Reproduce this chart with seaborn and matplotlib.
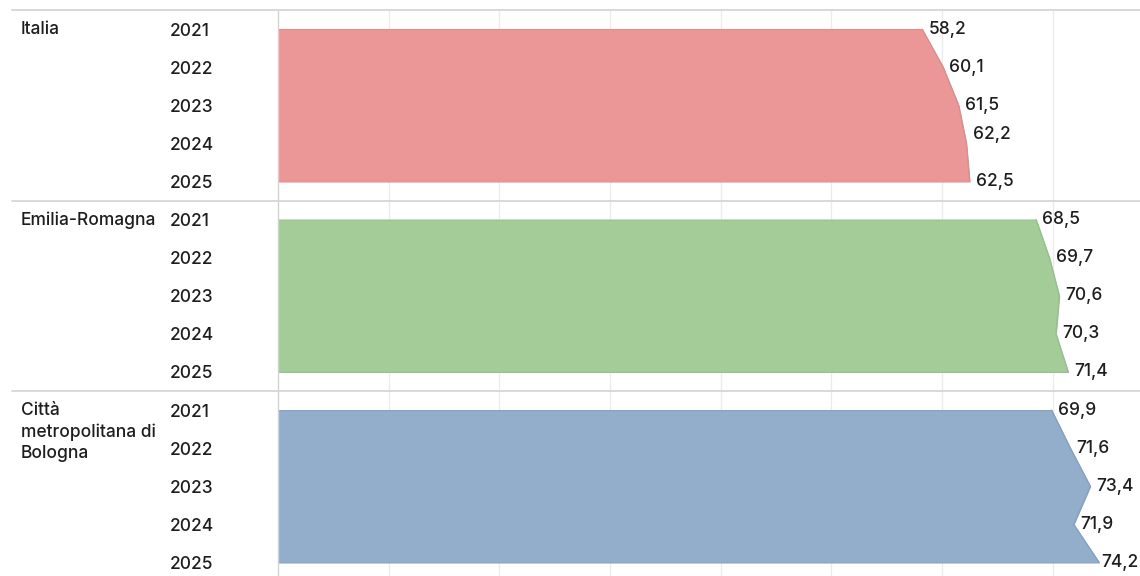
import matplotlib
matplotlib.use("Agg")
import matplotlib.pyplot as plt
import seaborn as sns
import numpy as np
import pandas as pd
from matplotlib.lines import Line2D
import matplotlib.transforms as mtransforms

# ---------------- data ----------------
years = ["2021", "2022", "2023", "2024", "2025"]
regions = ["Italia", "Emilia-Romagna", "Città\nmetropolitana di\nBologna"]
italia = [58.2, 60.1, 61.5, 62.2, 62.5]
emilia = [68.5, 69.7, 70.6, 70.3, 71.4]
bologna = [69.9, 71.6, 73.4, 71.9, 74.2]
series = [italia, emilia, bologna]
grid_ticks = [0, 10, 20, 30, 40, 50, 60, 70]

# ---------------- style ----------------
fills = ["#EC9797", "#A3CC98", "#93AECB"]
edges = ["#E38C8C", "#98C28D", "#86A3C2"]
# small label nudges (points) to avoid overlaps / clipping
label_dy = [{3: 6.5}, {}, {}]
label_dx = [{}, {}, {4: 1.4}]

sns.set_theme(style="white")
plt.rcParams["font.family"] = ["Inter", "DejaVu Sans"]
text_color = "#1E1E1E"
fs = 12.5
fw = "medium"

W, H, DPI = 1140, 576, 100
fig = plt.figure(figsize=(W / DPI, H / DPI), dpi=DPI)
fig.patch.set_facecolor("white")

ax_left_px = 278
panel_tops = [10, 200.5, 391]
panel_h = 190.5

rows = np.arange(len(years))
for i, (reg, vals) in enumerate(zip(regions, series)):
    top = panel_tops[i]
    ax = fig.add_axes([ax_left_px / W, 1 - (top + panel_h) / H,
                       (W - ax_left_px) / W, panel_h / H])
    ax.set_facecolor("white")
    ax.set_xlim(0, 77.9)
    ax.set_ylim(len(years) - 0.5, -0.5)

    for gx in grid_ticks[1:]:
        ax.axvline(gx, color="#ECECEC", lw=1.0, zorder=0)

    df = pd.DataFrame({"value": vals, "row": rows})
    ax.fill_betweenx(df["row"], 0, df["value"], facecolor=fills[i],
                     edgecolor=edges[i], linewidth=0.8, zorder=2)
    sns.lineplot(data=df, x="value", y="row", orient="y", sort=False,
                 color=edges[i], lw=0.9, ax=ax, zorder=3, legend=False)
    ax.set_xlabel("")
    ax.set_ylabel("")

    for r, v in zip(rows, vals):
        dy = label_dy[i].get(r, 0)
        dx = label_dx[i].get(r, 4.6)
        ax.annotate(f"{v:.1f}".replace(".", ","), xy=(v, r),
                    xytext=(dx, dy), textcoords="offset points",
                    ha="left", va="center", fontsize=fs, fontweight=fw,
                    color=text_color, zorder=4, annotation_clip=False)

    ax.set_xticks(grid_ticks)
    ax.set_xticklabels([])
    ax.set_yticks(rows)
    ax.set_yticklabels(years, fontsize=fs, color=text_color, fontweight=fw)
    ax.tick_params(axis="both", length=0)
    ax.tick_params(axis="y", pad=(ax_left_px - 170) * 72 / DPI)
    for lbl in ax.get_yticklabels():
        lbl.set_horizontalalignment("left")

    for s in ["top", "right", "bottom"]:
        ax.spines[s].set_visible(False)
    ax.spines["left"].set_color("#D2D2D2")
    ax.spines["left"].set_linewidth(1.0)

    trans = mtransforms.blended_transform_factory(fig.transFigure, ax.transData)
    ax.annotate(reg, xy=(21 / W, 0), xycoords=trans, xytext=(0, 5.6),
                textcoords="offset points", ha="left", va="top",
                fontsize=fs, fontweight=fw, color=text_color, linespacing=1.3,
                annotation_clip=False)

# panel separators
for top in panel_tops:
    fig.add_artist(Line2D([12 / W, 1.0], [1 - top / H, 1 - top / H],
                          transform=fig.transFigure, color="#D6D6D6", lw=1.3))

fig.savefig("out.png", dpi=DPI, facecolor="white")
